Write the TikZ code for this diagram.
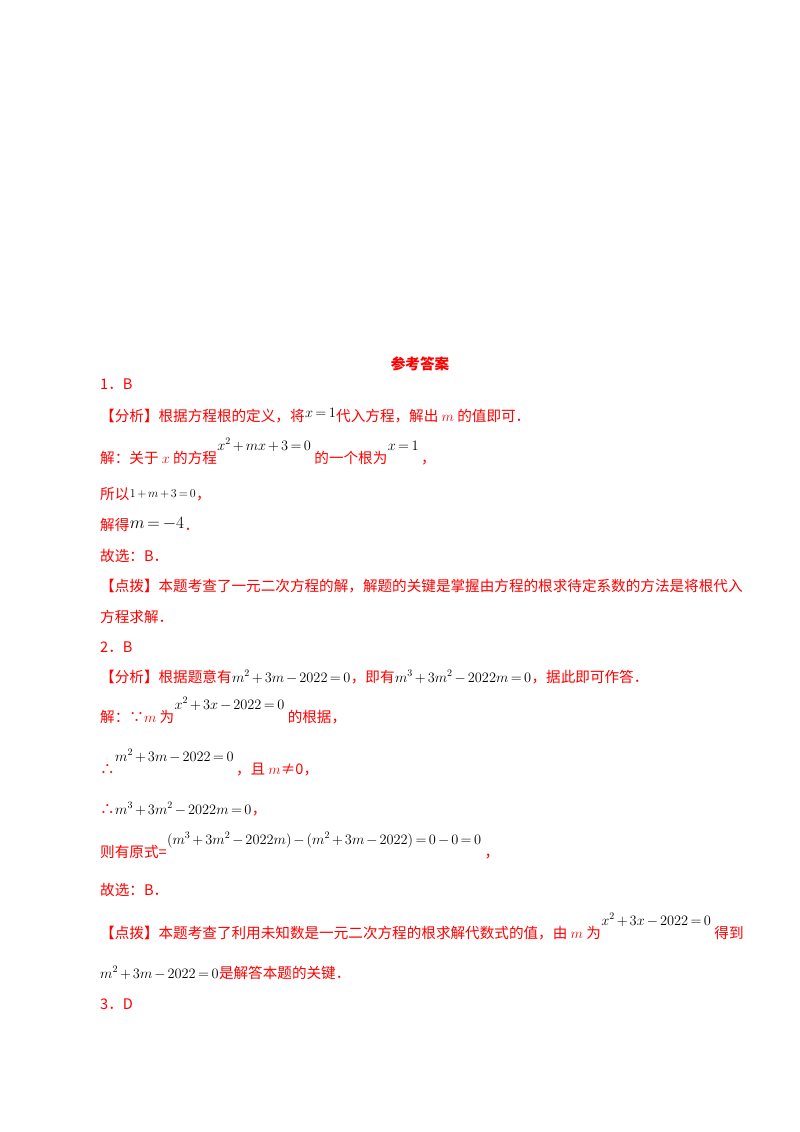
\documentclass[tikz,border=0pt]{standalone}
\usepackage{fontspec}
\newfontfamily\cjk{Noto Sans CJK SC}
\definecolor{ansred}{RGB}{255,0,0}
\medmuskip=2.5mu plus 1mu minus 1mu
\thickmuskip=3mu plus 1mu
\begin{document}
\begin{tikzpicture}[x=1pt,y=-1pt,
  t/.style={anchor=base west,inner sep=0pt,text=ansred,font=\cjk\fontsize{14.6}{17}\selectfont},
  mth/.style={anchor=base west,inner sep=0pt,text=black,font=\fontsize{14}{17}\selectfont},
  up/.style={yshift=13pt}, dn/.style={yshift=-13pt}]
\useasboundingbox[fill=white] (0,0) rectangle (800,1132);
\node[t,anchor=base,font=\cjk\bfseries\fontsize{14.6}{17}\selectfont] (title) at (420,369) {参考答案};
\node[t] (q1) at (100,389) {1．B};
\node[t] (a1) at (100,421) {【分析】根据方程根的定义，将};
\node[mth] (a1m) at (a1.base east) [yshift=4pt] {$x=1$};
\node[t] (a1b) at (a1m.base east) [yshift=-4pt] {代入方程，解出 $m$ 的值即可．};
\node[t] (s1) at (100,463) {解：关于 $x$ 的方程};
\node[mth] (s1m) at (s1.base east) [up] {$x^2+mx+3=0$};
\node[t] (s1b) at (s1m.base east) [dn,xshift=3pt] {的一个根为};
\node[mth] (s1m2) at (s1b.base east) [up] {$x=1$};
\node[t] (s1c) at (s1m2.base east) [dn,xshift=2pt] {，};
\node[t] (s2) at (100,499) {所以};
\node[mth,font=\fontsize{12}{14}\selectfont] (s2m) at (s2.base east) [yshift=2pt] {$1+m+3=0$};
\node[t] (s2c) at (s2m.base east) [yshift=-2pt] {，};
\node[t] (s3) at (100,530) {解得};
\node[mth,font=\fontsize{16}{18}\selectfont] (s3m) at (s3.base east) [yshift=2pt] {$m=-4$};
\node[t] (s3c) at (s3m.base east) [yshift=-2pt] {．};
\node[t] (s4) at (100,561) {故选：B．};
\node[t] (d1) at (100,591) {【点拨】本题考查了一元二次方程的解，解题的关键是掌握由方程的根求待定系数的方法是将根代入};
\node[t] (d1b) at (100,622) {方程求解．};
\node[t] (q2) at (100,652) {2．B};
\node[t] (a2) at (100,682) {【分析】根据题意有};
\node[mth] (a2m) at (a2.base east) {$m^2+3m-2022=0$};
\node[t] (a2b) at (a2m.base east) {，即有};
\node[mth] (a2m2) at (a2b.base east) {$m^3+3m^2-2022m=0$};
\node[t] (a2c) at (a2m2.base east) {，据此即可作答．};
\node[t] (s5) at (100,722) {解：∵$m$ 为};
\node[mth] (s5m) at (s5.base east) [up] {$x^2+3x-2022=0$};
\node[t] (s5b) at (s5m.base east) [dn,xshift=3pt] {的根据，};
\node[t] (s6) at (100,774) {∴};
\node[mth] (s6m) at (s6.base east) [up] {$m^2+3m-2022=0$};
\node[t] (s6b) at (s6m.base east) [dn,xshift=2pt] {，且 $m$≠0，};
\node[t] (s7) at (100,814) {∴};
\node[mth] (s7m) at (s7.base east) {$m^3+3m^2-2022m=0$};
\node[t] (s7c) at (s7m.base east) {，};
\node[t] (s8) at (100,857) {则有原式=};
\node[mth] (s8m) at (s8.base east) [up] {$(m^3+3m^2-2022m)-(m^2+3m-2022)=0-0=0$};
\node[t] (s8c) at (s8m.base east) [dn,xshift=3pt] {，};
\node[t] (s9) at (100,895) {故选：B．};
\node[t] (d2) at (100,938) {【点拨】本题考查了利用未知数是一元二次方程的根求解代数式的值，由 $m$ 为};
\node[mth] (d2m) at (d2.base east) [up] {$x^2+3x-2022=0$};
\node[t] (d2b) at (d2m.base east) [dn,xshift=3pt] {得到};
\node[mth] (d2m2) at (100,978) {$m^2+3m-2022=0$};
\node[t] (d2c) at (d2m2.base east) {是解答本题的关键．};
\node[t] (q3) at (100,1009) {3．D};
\end{tikzpicture}
\end{document}
